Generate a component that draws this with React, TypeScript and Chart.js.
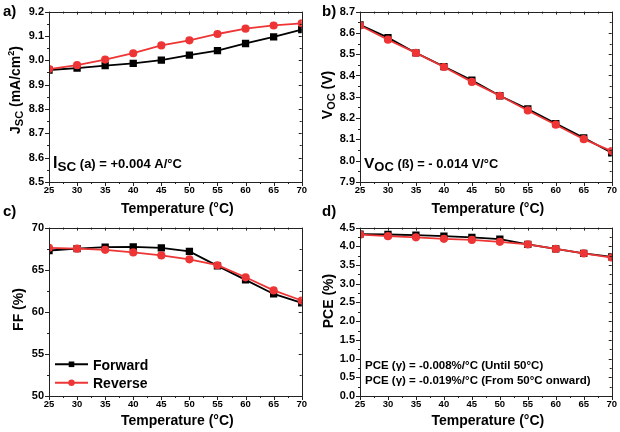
import React, { useEffect, useRef } from "react";
import { Chart, registerables } from "chart.js";

Chart.register(...registerables);

const TEMPS = [25, 30, 35, 40, 45, 50, 55, 60, 65, 70];

const JSC_FWD = [8.96, 8.968, 8.978, 8.987, 9.001, 9.021, 9.04, 9.069, 9.096, 9.126];
const JSC_REV = [8.964, 8.98, 9.003, 9.029, 9.061, 9.082, 9.108, 9.13, 9.143, 9.152];

const VOC_FWD = [8.638, 8.578, 8.506, 8.442, 8.378, 8.305, 8.243, 8.174, 8.107, 8.037];
const VOC_REV = [8.635, 8.568, 8.506, 8.44, 8.37, 8.305, 8.236, 8.169, 8.101, 8.045];

const FF_FWD = [67.28, 67.51, 67.67, 67.7, 67.6, 67.17, 65.46, 63.79, 62.12, 61.07];
const FF_REV = [67.6, 67.5, 67.36, 67.05, 66.7, 66.23, 65.53, 64.1, 62.54, 61.34];

const PCE_FWD = [4.325, 4.316, 4.3, 4.27, 4.24, 4.19, 4.05, 3.93, 3.81, 3.72];
const PCE_REV = [4.31, 4.27, 4.24, 4.2, 4.17, 4.12, 4.05, 3.93, 3.81, 3.7];

const X_RANGE = [25, 70, 5];
const JSC_RANGE = [8.5, 9.2, 0.1];
const VOC_RANGE = [7.9, 8.7, 0.1];
const FF_RANGE = [50, 70, 5];
const PCE_RANGE = [0, 4.5, 0.5];

const SERIES_NAMES = ["Forward", "Reverse"];
const X_TITLE = "Temperature (°C)";

const FONT = "'Liberation Sans', Arial, sans-serif";
const RED = "#EE3535";
const BLACK = "#000000";

type Run = { t: string; size: number; dy?: number };

function runsWidth(ctx: CanvasRenderingContext2D, runs: Run[]) {
  let w = 0;
  for (const r of runs) {
    ctx.font = `bold ${r.size}px ${FONT}`;
    w += ctx.measureText(r.t).width;
  }
  return w;
}

function drawRuns(ctx: CanvasRenderingContext2D, runs: Run[], x: number, y: number) {
  let cx = x;
  ctx.textBaseline = "alphabetic";
  ctx.textAlign = "left";
  for (const r of runs) {
    ctx.font = `bold ${r.size}px ${FONT}`;
    ctx.fillText(r.t, cx, y + (r.dy || 0));
    cx += ctx.measureText(r.t).width;
  }
}

type PanelProps = {
  left: number;
  top: number;
  fwd: number[];
  rev: number[];
  yRange: number[];
  decimals: number;
  yAxisW: number;
  padRight: number;
  xAxisH: number;
  xTitleY: number;
  yTitle: Run[];
  yTitlePos: [number, number];
  extras: (ctx: CanvasRenderingContext2D, chart: any) => void;
};

function Panel(p: PanelProps) {
  const ref = useRef<HTMLCanvasElement>(null);
  useEffect(() => {
    const canvas = ref.current!;
    const framePlugin = {
      id: "frame",
      afterDraw(chart: any) {
        const ctx: CanvasRenderingContext2D = chart.ctx;
        const a = chart.chartArea;
        const xs = chart.scales.x;
        const ys = chart.scales.y;
        ctx.save();
        ctx.strokeStyle = "#222";
        ctx.lineWidth = 1;
        ctx.strokeRect(Math.round(a.left) + 0.5, Math.round(a.top) + 0.5, Math.round(a.right - a.left), Math.round(a.bottom - a.top));
        ctx.beginPath();
        const [x0, x1, xs5] = X_RANGE;
        for (let i = 0; x0 + i * xs5 / 2 <= x1 + 1e-9; i++) {
          const v = x0 + (i * xs5) / 2;
          const px = Math.round(xs.getPixelForValue(v)) + 0.5;
          const major = i % 2 === 0;
          const lo = major ? 4 : 2;
          const li = major ? 3 : 2;
          ctx.moveTo(px, a.bottom);
          ctx.lineTo(px, a.bottom + lo);
          ctx.moveTo(px, a.top);
          ctx.lineTo(px, a.top + li);
        }
        const [y0, y1, ystep] = p.yRange;
        const n = Math.round((y1 - y0) / (ystep / 2));
        for (let i = 0; i <= n; i++) {
          const v = y0 + (i * ystep) / 2;
          const py = Math.round(ys.getPixelForValue(v)) + 0.5;
          const major = i % 2 === 0;
          const lo = major ? 4 : 2;
          const li = major ? 3 : 2;
          ctx.moveTo(a.left, py);
          ctx.lineTo(a.left - lo, py);
          ctx.moveTo(a.right, py);
          ctx.lineTo(a.right - li, py);
        }
        ctx.stroke();

        ctx.fillStyle = "#000";
        // x title
        ctx.font = `bold 14px ${FONT}`;
        ctx.textAlign = "center";
        ctx.textBaseline = "middle";
        ctx.fillText(X_TITLE, (a.left + a.right) / 2 + 2, p.xTitleY);
        // y title
        ctx.save();
        ctx.translate(p.yTitlePos[0], p.yTitlePos[1]);
        ctx.rotate(-Math.PI / 2);
        const w = runsWidth(ctx, p.yTitle);
        drawRuns(ctx, p.yTitle, -w / 2, 5);
        ctx.restore();
        p.extras(ctx, chart);
        ctx.restore();
      },
    };
    const chart = new Chart(canvas, {
      type: "line",
      data: {
        datasets: [
          {
            label: SERIES_NAMES[0],
            data: TEMPS.map((t, i) => ({ x: t, y: p.fwd[i] })),
            borderColor: BLACK,
            backgroundColor: BLACK,
            borderWidth: 1.8,
            pointStyle: "rect",
            pointRadius: 3.9,
            tension: 0,
            order: 1,
          },
          {
            label: SERIES_NAMES[1],
            data: TEMPS.map((t, i) => ({ x: t, y: p.rev[i] })),
            borderColor: RED,
            backgroundColor: RED,
            borderWidth: 1.8,
            pointStyle: "circle",
            pointRadius: 3.2,
            tension: 0,
            order: 0,
          },
        ],
      },
      options: {
        animation: false,
        responsive: false,
        events: [],
        layout: { padding: { top: 8, right: p.padRight, left: 0, bottom: 0 } },
        plugins: { legend: { display: false }, tooltip: { enabled: false } },
        scales: {
          x: {
            type: "linear",
            min: X_RANGE[0],
            max: X_RANGE[1],
            grid: { display: false, drawTicks: false, tickLength: 0 },
            border: { display: false },
            ticks: {
              stepSize: X_RANGE[2],
              color: "#000",
              padding: 3,
              maxRotation: 0,
              font: { family: FONT, size: 9.5, weight: "bold" },
            },
            afterFit: (s: any) => {
              s.height = p.xAxisH;
            },
          },
          y: {
            type: "linear",
            min: p.yRange[0],
            max: p.yRange[1],
            grid: { display: false, drawTicks: false, tickLength: 0 },
            border: { display: false },
            ticks: {
              stepSize: p.yRange[2],
              color: "#000",
              padding: 5,
              font: { family: FONT, size: 11, weight: "bold" },
              callback: (v: any) => Number(v).toFixed(p.decimals),
            },
            afterFit: (s: any) => {
              s.width = p.yAxisW;
            },
          },
        },
      } as any,
      plugins: [framePlugin],
    });
    return () => chart.destroy();
  }, []);
  return (
    <canvas
      ref={ref}
      width={310}
      height={216}
      style={{ position: "absolute", left: p.left, top: p.top, width: 310, height: 216 }}
    />
  );
}

const labelStyle: React.CSSProperties = {
  position: "absolute",
  fontFamily: FONT,
  fontWeight: "bold",
  fontSize: 15,
  lineHeight: "15px",
  color: "#000",
};

export default function App() {
  return (
    <div style={{ position: "fixed", left: 0, top: 0, width: 620, height: 432, background: "#fff", overflow: "hidden" }}>
      <Panel
        left={0}
        top={0}
        fwd={JSC_FWD}
        rev={JSC_REV}
        yRange={JSC_RANGE}
        decimals={1}
        yAxisW={49}
        padRight={8}
        xAxisH={34}
        xTitleY={209}
        yTitle={[
          { t: "J", size: 14 },
          { t: "SC", size: 11, dy: 3 },
          { t: " (mA/cm", size: 14 },
          { t: "2", size: 9, dy: -6 },
          { t: ")", size: 14 },
        ]}
        yTitlePos={[15, 90]}
        extras={(ctx) => {
          drawRuns(
            ctx,
            [
              { t: "I", size: 16 },
              { t: "SC", size: 13.5, dy: 3 },
              { t: " (a) = +0.004 A/°C", size: 13 },
            ],
            53,
            168
          );
        }}
      />
      <Panel
        left={310}
        top={0}
        fwd={VOC_FWD}
        rev={VOC_REV}
        yRange={VOC_RANGE}
        decimals={1}
        yAxisW={50}
        padRight={6}
        xAxisH={34}
        xTitleY={209}
        yTitle={[
          { t: "V", size: 14 },
          { t: "OC", size: 11, dy: 3 },
          { t: " (V)", size: 14 },
        ]}
        yTitlePos={[17, 95]}
        extras={(ctx) => {
          drawRuns(
            ctx,
            [
              { t: "V", size: 15.5 },
              { t: "OC", size: 13, dy: 3 },
              { t: " (ß) = - 0.014 V/°C", size: 12.8 },
            ],
            54,
            168
          );
        }}
      />
      <Panel
        left={0}
        top={216}
        fwd={FF_FWD}
        rev={FF_REV}
        yRange={FF_RANGE}
        decimals={0}
        yAxisW={49}
        padRight={8}
        xAxisH={36}
        xTitleY={205}
        yTitle={[{ t: "FF (%)", size: 14 }]}
        yTitlePos={[18, 93.5]}
        extras={(ctx) => {
          const rows = [
            { name: SERIES_NAMES[0], color: BLACK, y: 148.3, rect: true },
            { name: SERIES_NAMES[1], color: RED, y: 166.7, rect: false },
          ];
          for (const r of rows) {
            ctx.strokeStyle = r.color;
            ctx.fillStyle = r.color;
            ctx.lineWidth = 2;
            ctx.beginPath();
            ctx.moveTo(55, r.y);
            ctx.lineTo(88, r.y);
            ctx.stroke();
            ctx.beginPath();
            if (r.rect) ctx.rect(71.5 - 2.8, r.y - 2.8, 5.6, 5.6);
            else ctx.arc(71.5, r.y, 3.2, 0, Math.PI * 2);
            ctx.fill();
            ctx.fillStyle = "#000";
            drawRuns(ctx, [{ t: r.name, size: 14 }], 93, r.y + 5.3);
          }
        }}
      />
      <Panel
        left={310}
        top={216}
        fwd={PCE_FWD}
        rev={PCE_REV}
        yRange={PCE_RANGE}
        decimals={1}
        yAxisW={50}
        padRight={6}
        xAxisH={36}
        xTitleY={205}
        yTitle={[{ t: "PCE (%)", size: 14 }]}
        yTitlePos={[17.5, 85]}
        extras={(ctx) => {
          drawRuns(ctx, [{ t: "PCE (γ) = -0.008%/°C (Until 50°C)", size: 11.5 }], 55, 153);
          drawRuns(ctx, [{ t: "PCE (γ) = -0.019%/°C (From 50°C onward)", size: 11.5 }], 55, 168);
        }}
      />
      <div style={{ ...labelStyle, left: 3, top: 3 }}>a)</div>
      <div style={{ ...labelStyle, left: 322, top: 3 }}>b)</div>
      <div style={{ ...labelStyle, left: 3, top: 203 }}>c)</div>
      <div style={{ ...labelStyle, left: 322, top: 203 }}>d)</div>
    </div>
  );
}
